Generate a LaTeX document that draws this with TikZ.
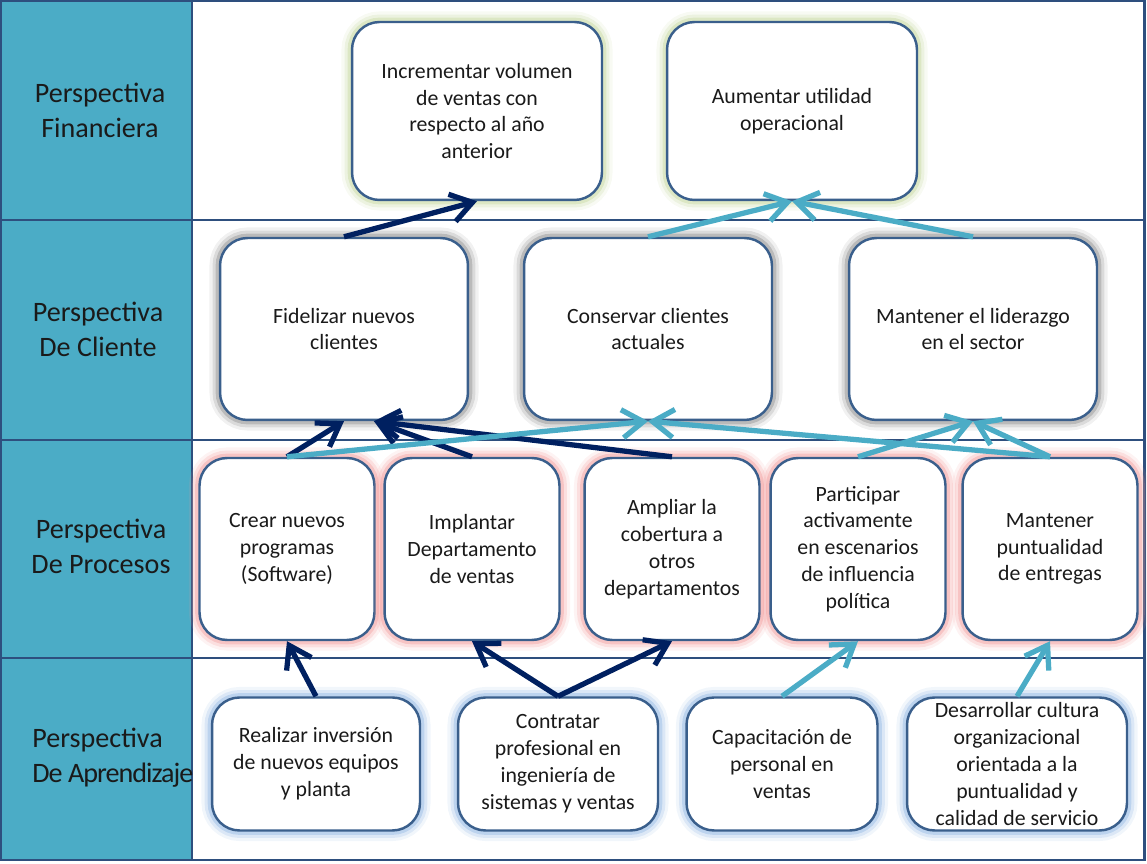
\documentclass[tikz,border=0pt]{standalone}
\usepackage{fontspec}
\setmainfont{Carlito}
\usepackage{tikz}
\usetikzlibrary{arrows.meta,calc,positioning}

\definecolor{frameblue}{HTML}{2E4F7E}
\definecolor{boxline}{HTML}{3A5F8C}
\definecolor{colfill}{HTML}{4BACC6}
\definecolor{navyc}{HTML}{002060}
\definecolor{tealc}{HTML}{4BACC6}
\definecolor{finglow}{HTML}{C3D69B}
\definecolor{procglow}{HTML}{F29A9A}
\definecolor{aprglow}{HTML}{8DB4E2}
\definecolor{cliglow}{HTML}{8A8A8A}
\definecolor{txt}{HTML}{1A1A1A}

\newcommand{\boxfont}{\fontsize{12.4}{15.3}\selectfont}
\newcommand{\perspfont}{\fontsize{16}{20}\selectfont}

\begin{document}
\begin{tikzpicture}[%
>={Straight Barb[length=12pt,width=16pt]},
x=0.02cm, y=-0.02cm,
persp/.style={align=center, font=\perspfont, text=txt, inner sep=0pt},
halo/.style={preaction={draw=#1, line width=12pt, opacity=.12},
  preaction={draw=#1, line width=8.5pt, opacity=.22},
  preaction={draw=#1, line width=5pt, opacity=.4}},
box/.style={draw=boxline, line width=1.4pt, fill=white, rounded corners=0.55cm,
  align=center, font=\boxfont, text=txt, inner sep=1pt},
fin/.style={halo=finglow, box, minimum width=5cm, minimum height=3.56cm},
cli/.style={halo=cliglow, box, minimum width=4.96cm, minimum height=3.64cm},
proc/.style={halo=procglow, box, minimum width=3.5cm, minimum height=3.64cm},
apr/.style={halo=aprglow, box, minimum height=2.66cm},
navyarr/.style={draw=navyc, line width=3pt},
tealarr/.style={draw=tealc, line width=3pt}
]
\useasboundingbox (0,0) rectangle (1147,864);

% frame and rows
\fill[colfill] (1,1) rectangle (192,860);
\draw[frameblue, line width=1.7pt] (1,1) rectangle (1144,860);
\draw[frameblue, line width=1.7pt] (192,1) -- (192,860);
\foreach \y in {220,440,658}
  \draw[frameblue, line width=1.7pt] (1,\y) -- (1144,\y);

% perspectives
\node[persp] (lf) at (100,110) {Perspectiva\\Financiera};
\node[persp] (lc) at (98,329) {Perspectiva\\De Cliente};
\node[persp] (lp) at (101,546) {Perspectiva\\De Procesos};
\node[persp, align=left, anchor=west] (la) at (32,758)
  {Perspectiva\\{\addfontfeatures{LetterSpace=-3.5}De Aprendizaje}};

% financiera
\node[fin] (f1) at (477,111) {Incrementar volumen\\de ventas con\\respecto al año\\anterior};
\node[fin] (f2) at (792,111) {Aumentar utilidad\\operacional};

% cliente
\node[cli] (c1) at (344,329) {Fidelizar nuevos\\clientes};
\node[cli] (c2) at (648,329) {Conservar clientes\\actuales};
\node[cli] (c3) at (973,329) {Mantener el liderazgo\\en el sector};

% procesos
\node[proc] (p1) at (287,549) {Crear nuevos\\programas\\(Software)};
\node[proc] (p2) at (472,549) {Implantar\\Departamento\\de ventas};
\node[proc] (p3) at (672,549) {Ampliar la\\cobertura a\\otros\\departamentos};
\node[proc] (p4) at (858,549) {Participar\\activamente\\en escenarios\\de influencia\\política};
\node[proc] (p5) at (1050,549) {Mantener\\puntualidad\\de entregas};

% aprendizaje
\node[apr, minimum width=4.16cm] (a1) at (316,764) {Realizar inversión\\de nuevos equipos\\y planta};
\node[apr, minimum width=4cm] (a2) at (558,764) {Contratar\\profesional en\\ingeniería de\\sistemas y ventas};
\node[apr, minimum width=3.82cm] (a3) at (782,764) {Capacitación de\\personal en\\ventas};
\node[apr, minimum width=4.4cm] (a4) at (1017,764) {Desarrollar cultura\\organizacional\\orientada a la\\puntualidad y\\calidad de servicio};

% dark: main line
\path[->] (c1.north) edge [navyarr] (f1.south);
\path[->] (p1.north) edge [navyarr] (c1.south);
\path[->] (p2.north) edge [navyarr] (c1.-72);
\path[->] (p3.north) edge [navyarr] (c1.-72);
\path[->] (a1.north) edge [navyarr] (p1.south);
\path[->] (a2.north) edge [navyarr] (p2.south);
\path[->] (a2.north) edge [navyarr] (p3.south);

% light: second line
\path[->] (c2.north) edge [tealarr] (f2.south);
\path[->] (c3.north) edge [tealarr] (f2.south);
\path[->] (p1.north) edge [tealarr] (c2.south);
\path[->] (p5.north) edge [tealarr] (c2.south);
\path[->] (p4.north) edge [tealarr] (c3.south);
\path[->] (p5.north) edge [tealarr] (c3.south);
\path[->] (a3.north) edge [tealarr] (p4.south);
\path[->] (a4.north) edge [tealarr] (p5.south);

\end{tikzpicture}
\end{document}
